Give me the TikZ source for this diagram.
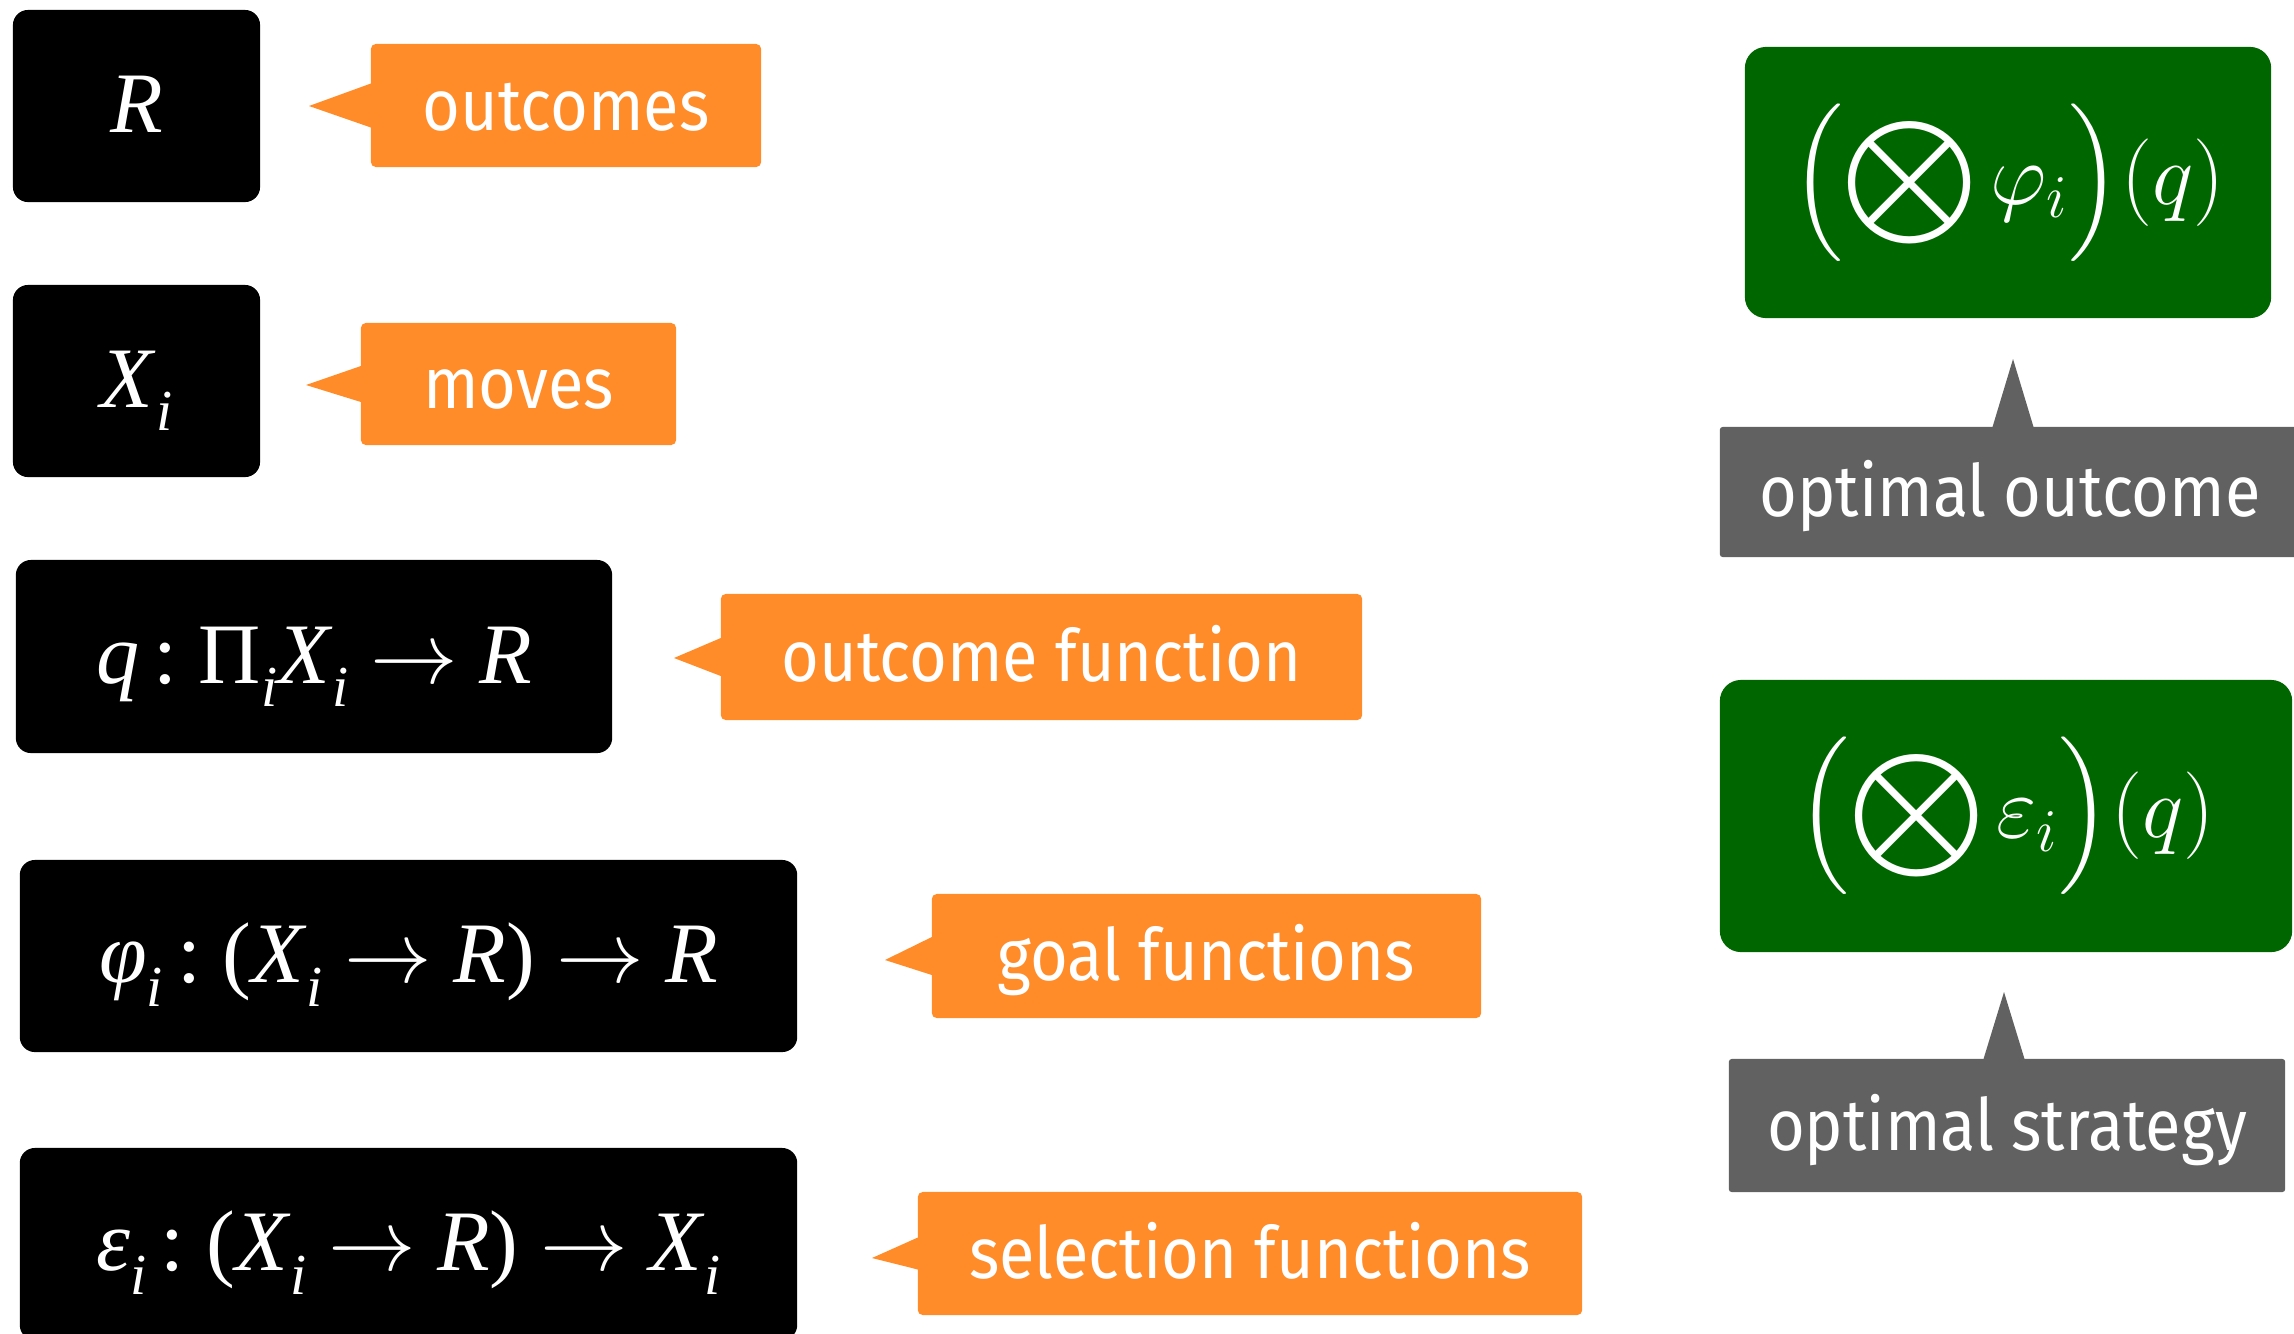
\documentclass[tikz,border=0pt]{standalone}
\usepackage{exscale}
\usepackage{fontspec}
\usetikzlibrary{calc}
\newfontfamily\fira[FakeStretch=0.9]{Fira Sans}
\newfontfamily\tms{Liberation Serif}
\definecolor{calloutorange}{HTML}{FF8C28}
\definecolor{resultgreen}{HTML}{006600}
\definecolor{notegray}{HTML}{616161}
% lowered italic subscript i and a math arrow for the signatures
\newcommand\ix{\raisebox{-0.27em}{\fontsize{16.5}{16.5}\selectfont\itshape i}}
\newcommand\sigarrow{$\rightarrow$}
\tikzset{
  blackbox/.style={fill=black, rounded corners=4.3pt, text=white, inner sep=0pt, outer sep=0pt,
    text height=15.2pt, text depth=0pt, font=\tms\fontsize{24.5}{28}\selectfont},
  orangebox/.style={fill=calloutorange, rounded corners=1.4pt, text=white, inner sep=0pt, outer sep=0pt,
    text height=14.2pt, text depth=0pt, font=\fira\fontsize{20.5}{24}\selectfont},
  greenbox/.style={fill=resultgreen, rounded corners=6pt, text=white, inner sep=0pt, outer sep=0pt,
    font=\fontsize{23}{28}\selectfont},
  graybox/.style={fill=notegray, rounded corners=0.8pt, text=white, inner sep=0pt, outer sep=0pt,
    text height=14.2pt, text depth=0pt, font=\fira\fontsize{20.5}{24}\selectfont},
}
\begin{document}
\begin{tikzpicture}[x=0.01cm, y=-0.01cm]
\useasboundingbox (0,0) rectangle (2294,1333);
\begin{scope}
\clip (0,0) rectangle (2294,1333);

% signatures
\node[blackbox, minimum width=2.47cm, minimum height=1.92cm] (bR) at (136.5,106) {\textit{R}};
\node[blackbox, minimum width=2.47cm, minimum height=1.92cm] (bX) at (136.5,381) {\textit{X}\ix};
\node[blackbox, minimum width=5.96cm, minimum height=1.93cm] (bq) at (314,656.5)
  {\textit{q}\,:\ Π\ix\textit{X}\ix\ \sigarrow\ \textit{R}};
\node[blackbox, minimum width=7.77cm, minimum height=1.92cm] (bphi) at (408.5,956)
  {\textit{φ}\ix\,:\ (\textit{X}\ix\ \sigarrow\ \textit{R})\ \sigarrow\ \textit{R}};
\node[blackbox, minimum width=7.77cm, minimum height=1.92cm] (beps) at (408.5,1244)
  {\textit{ε}\ix\,:\ (\textit{X}\ix\ \sigarrow\ \textit{R})\ \sigarrow\ \textit{X}\ix};

% orange callouts
\node[orangebox, minimum width=3.90cm, minimum height=1.23cm] (cR) at (566,105.5) {outcomes};
\node[orangebox, minimum width=3.15cm, minimum height=1.22cm] (cX) at (518.5,384) {moves};
\node[orangebox, minimum width=6.41cm, minimum height=1.26cm] (cq) at (1041.5,657) {outcome function};
\node[orangebox, minimum width=5.49cm, minimum height=1.24cm] (cphi) at (1206.5,956) {goal functions};
\node[orangebox, minimum width=6.64cm, minimum height=1.23cm] (ceps) at (1250,1253.5) {selection functions};

\coordinate (tR) at (309,106);
\coordinate (tX) at (306,385);
\coordinate (tq) at (674,658);
\coordinate (tphi) at (885,960);
\coordinate (teps) at (872,1258);

\fill[calloutorange] (tR) -- ($(cR.west)+(0,-22)$) -- ($(cR.west)+(0,22)$) -- cycle;
\fill[calloutorange] (tX) -- ($(cX.west)+(0,-18)$) -- ($(cX.west)+(0,18)$) -- cycle;
\fill[calloutorange] (tq) -- ($(cq.west)+(0,-19)$) -- ($(cq.west)+(0,19)$) -- cycle;
\fill[calloutorange] (tphi) -- ($(cphi.west)+(0,-19)$) -- ($(cphi.west)+(0,19)$) -- cycle;
\fill[calloutorange] (teps) -- ($(ceps.west)+(0,-16)$) -- ($(ceps.west)+(0,16)$) -- cycle;

% results
\node[greenbox, minimum width=5.26cm, minimum height=2.71cm] (gphi) at (2008,182.5)
  {$\displaystyle{\left(\bigotimes\varphi_i\right)}(q)$};
\node[greenbox, minimum width=5.72cm, minimum height=2.72cm] (geps) at (2006,816)
  {$\displaystyle{\left(\bigotimes\varepsilon_i\right)}(q)$};

% gray notes
\node[graybox, minimum width=5.80cm, minimum height=1.30cm] (nphi) at (2010,492) {optimal outcome};
\node[graybox, minimum width=5.56cm, minimum height=1.33cm] (neps) at (2007,1125.5) {optimal strategy};

\coordinate (pphi) at (2013,359);
\coordinate (peps) at (2004,992);
\fill[notegray] (pphi) -- ($(nphi.north west)!(pphi)!(nphi.north east)+(-20.5,0)$)
  -- ($(nphi.north west)!(pphi)!(nphi.north east)+(20.5,0)$) -- cycle;
\fill[notegray] (peps) -- ($(neps.north west)!(peps)!(neps.north east)+(-20.5,0)$)
  -- ($(neps.north west)!(peps)!(neps.north east)+(20.5,0)$) -- cycle;
\end{scope}
\end{tikzpicture}
\end{document}
